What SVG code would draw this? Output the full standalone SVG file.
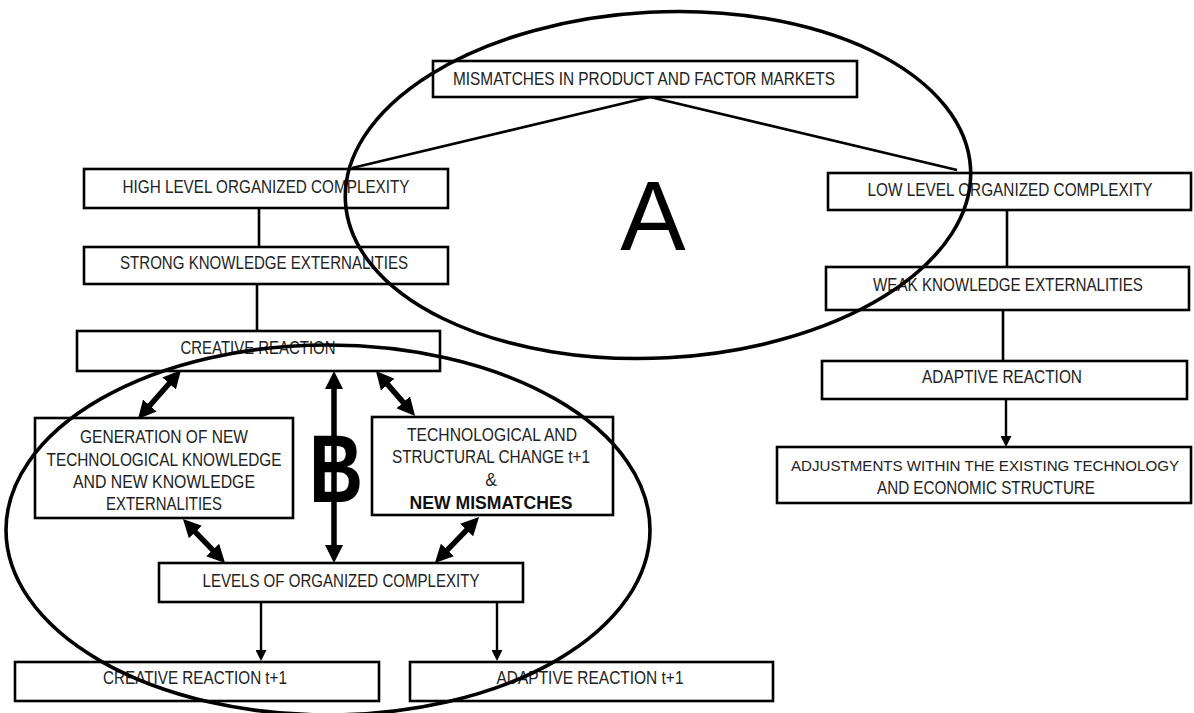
<svg xmlns="http://www.w3.org/2000/svg" width="1194" height="713" viewBox="0 0 1194 713">
<defs>
<style>
.box{fill:#fff;stroke:#000;stroke-width:2.6}
.t{font-family:"Liberation Sans",Arial,sans-serif;font-size:17.5px;fill:#222;text-anchor:middle}
.b{font-weight:bold;fill:#111}
.ln{stroke:#000;stroke-width:2.6;fill:none}
.thick{stroke:#000;stroke-width:5.5;fill:none;marker-start:url(#bigHead);marker-end:url(#bigHead)}
.thin{stroke:#000;stroke-width:2.4;fill:none;marker-end:url(#smallHead)}
.ell{fill:none;stroke:#000;stroke-width:3.6}
.big{font-family:"Liberation Sans",Arial,sans-serif;fill:#000;text-anchor:middle}
</style>
<marker id="bigHead" viewBox="0 0 18 18" markerWidth="18" markerHeight="18" refX="1" refY="9" orient="auto-start-reverse" markerUnits="userSpaceOnUse">
<path d="M0,0 L18,9 L0,18 z" fill="#000"/>
</marker>
<marker id="smallHead" viewBox="0 0 10 10" markerWidth="11" markerHeight="11" refX="1" refY="5" orient="auto" markerUnits="userSpaceOnUse">
<path d="M0,0 L10,5 L0,10 z" fill="#000"/>
</marker>
</defs>
<rect width="1194" height="713" fill="#fff"/>

<g id="connectors">
<line class="ln" x1="650" y1="97" x2="352" y2="168"/>
<line class="ln" x1="650" y1="97" x2="957" y2="170"/>
<line class="ln" x1="259" y1="208" x2="259" y2="247"/>
<line class="ln" x1="257" y1="284" x2="257" y2="331"/>
<line class="ln" x1="1007" y1="210" x2="1007" y2="267"/>
<line class="ln" x1="1003" y1="310" x2="1003" y2="361"/>
<line class="thin" x1="1006" y1="399" x2="1006" y2="437"/>
<line class="thin" x1="261" y1="603" x2="261" y2="651"/>
<line class="thin" x1="497" y1="603" x2="497" y2="651"/>
<line class="thick" x1="169.8" y1="382.8" x2="149.2" y2="406.2"/>
<line class="thick" x1="194.7" y1="531.3" x2="213.3" y2="550.7"/>
<line class="thick" x1="387.1" y1="383.9" x2="403.9" y2="403.1"/>
<line class="thick" x1="467.3" y1="529.3" x2="446.7" y2="550.7"/>
<line class="thick" x1="334" y1="388" x2="334" y2="546"/>
</g>

<g id="mismatches"><rect class="box" x="433" y="61" width="424" height="36"/><text class="t" x="644" y="85" textLength="382" lengthAdjust="spacingAndGlyphs">MISMATCHES IN PRODUCT AND FACTOR MARKETS</text></g>
<g id="high"><rect class="box" x="84" y="169" width="364" height="39"/><text class="t" x="266" y="193" textLength="287" lengthAdjust="spacingAndGlyphs">HIGH LEVEL ORGANIZED COMPLEXITY</text></g>
<g id="strong"><rect class="box" x="84" y="247" width="364" height="37"/><text class="t" x="264" y="269" textLength="288" lengthAdjust="spacingAndGlyphs">STRONG KNOWLEDGE EXTERNALITIES</text></g>
<g id="creative"><rect class="box" x="77" y="331" width="363" height="40"/><text class="t" x="258" y="354" textLength="155" lengthAdjust="spacingAndGlyphs">CREATIVE REACTION</text></g>
<g id="generation"><rect class="box" x="35" y="418" width="258" height="100"/>
<text class="t" x="164" y="443" textLength="168" lengthAdjust="spacingAndGlyphs">GENERATION OF NEW</text>
<text class="t" x="164" y="466" textLength="235" lengthAdjust="spacingAndGlyphs">TECHNOLOGICAL KNOWLEDGE</text>
<text class="t" x="164" y="488" textLength="182" lengthAdjust="spacingAndGlyphs">AND NEW KNOWLEDGE</text>
<text class="t" x="164" y="510" textLength="116" lengthAdjust="spacingAndGlyphs">EXTERNALITIES</text></g>
<g id="techchange"><rect class="box" x="372" y="417" width="241" height="98"/>
<text class="t" x="492" y="441" textLength="170" lengthAdjust="spacingAndGlyphs">TECHNOLOGICAL AND</text>
<text class="t" x="491" y="463" textLength="198" lengthAdjust="spacingAndGlyphs">STRUCTURAL CHANGE t+1</text>
<text class="t" x="491" y="486">&amp;</text>
<text class="t b" x="491" y="509" textLength="163" lengthAdjust="spacingAndGlyphs">NEW MISMATCHES</text></g>
<g id="levels"><rect class="box" x="159" y="563" width="364" height="39"/><text class="t" x="341" y="587" textLength="277" lengthAdjust="spacingAndGlyphs">LEVELS OF ORGANIZED COMPLEXITY</text></g>
<g id="creative-t1"><rect class="box" x="15" y="662" width="364" height="39"/><text class="t" x="195" y="684" textLength="184" lengthAdjust="spacingAndGlyphs">CREATIVE REACTION t+1</text></g>
<g id="adaptive-t1"><rect class="box" x="410" y="662" width="363" height="39"/><text class="t" x="590" y="684" textLength="187" lengthAdjust="spacingAndGlyphs">ADAPTIVE REACTION t+1</text></g>
<g id="low"><rect class="box" x="828" y="173" width="363" height="37"/><text class="t" x="1010" y="196" textLength="285" lengthAdjust="spacingAndGlyphs">LOW LEVEL ORGANIZED COMPLEXITY</text></g>
<g id="weak"><rect class="box" x="826" y="267" width="363" height="43"/><text class="t" x="1008" y="291" textLength="270" lengthAdjust="spacingAndGlyphs">WEAK KNOWLEDGE EXTERNALITIES</text></g>
<g id="adaptive"><rect class="box" x="822" y="361" width="365" height="38"/><text class="t" x="1002" y="383" textLength="160" lengthAdjust="spacingAndGlyphs">ADAPTIVE REACTION</text></g>
<g id="adjustments"><rect class="box" x="777" y="447" width="414" height="56"/>
<text class="t" x="985" y="471" font-size="15.5" style="font-size:15.5px" textLength="388" lengthAdjust="spacingAndGlyphs">ADJUSTMENTS WITHIN THE EXISTING TECHNOLOGY</text>
<text class="t" x="986" y="494" textLength="218" lengthAdjust="spacingAndGlyphs">AND ECONOMIC STRUCTURE</text></g>

<g id="region-A">
<ellipse class="ell" cx="658" cy="185" rx="313" ry="173" transform="rotate(-3 658 185)"/>
<text class="big" x="653" y="250" font-size="98">A</text>
</g>
<g id="region-B">
<ellipse class="ell" cx="328" cy="530" rx="322" ry="185"/>
<text class="big" x="336" y="502" font-size="96" font-weight="bold" textLength="54" lengthAdjust="spacingAndGlyphs">B</text>
</g>
</svg>
